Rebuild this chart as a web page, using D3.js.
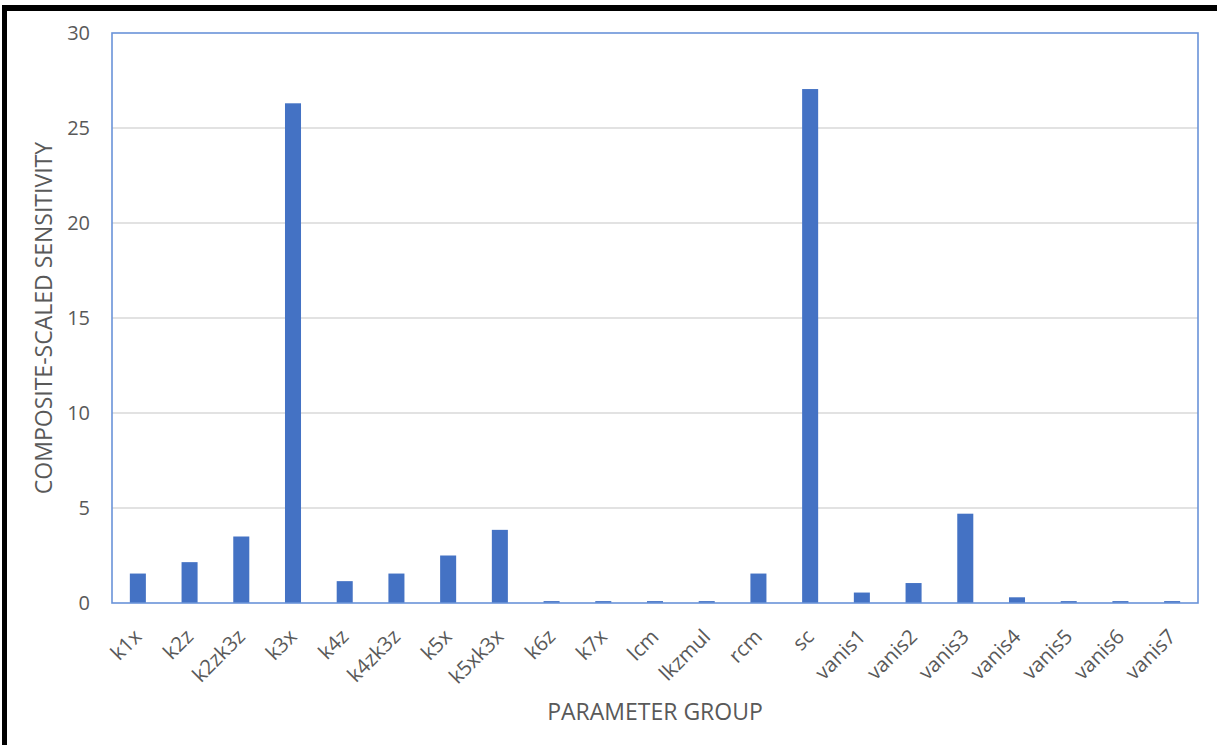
<!DOCTYPE html>
<html>
<head>
<meta charset="utf-8">
<script src="https://cdn.jsdelivr.net/npm/d3@7"></script>
<style>
  html, body { margin: 0; padding: 0; background: #fff; }
  svg { display: block; }
  text { font-family: "Open Sans", "Noto Sans", sans-serif; fill: #595959; }
</style>
</head>
<body>
<svg id="chart"></svg>
<script>
/* ------------------ data ------------------ */

const groups = ["k1x", "k2z", "k2zk3z", "k3x", "k4z", "k4zk3z", "k5x", "k5xk3x", "k6z", "k7x",
  "lcm", "lkzmul", "rcm", "sc", "vanis1", "vanis2", "vanis3", "vanis4", "vanis5", "vanis6", "vanis7"];
const sensitivity = [1.55, 2.15, 3.5, 26.3, 1.15, 1.55, 2.5, 3.85, 0.1, 0.1,
  0.1, 0.1, 1.55, 27.05, 0.55, 1.05, 4.7, 0.3, 0.1, 0.1, 0.1];
const yTicks = [0, 5, 10, 15, 20, 25, 30];

/* ------------------ constants ------------------ */

const WIDTH = 1217;
const HEIGHT = 745;
const PLOT = { left: 112, top: 33, right: 1198, bottom: 603 };
const BAR_COLOR = "#4472c4";
const FRAME_COLOR = "#6a93d9";
const GRID_COLOR = "#d9d9d9";

/* ------------------ render ------------------ */

const svg = d3.select("#chart").attr("width", WIDTH).attr("height", HEIGHT);

// page border (top and left only, as in the screenshot)
svg.append("rect").attr("x", 2).attr("y", 5).attr("width", WIDTH - 2).attr("height", 6).attr("fill", "#000");
svg.append("rect").attr("x", 2).attr("y", 5).attr("width", 5).attr("height", HEIGHT - 5).attr("fill", "#000");

const x = d3.scaleBand()
  .domain(groups)
  .range([PLOT.left, PLOT.right])
  .paddingInner(0.69)
  .paddingOuter(0.345);

const y = d3.scaleLinear()
  .domain([0, 30])
  .range([PLOT.bottom, PLOT.top]);

// gridlines
svg.append("g")
  .selectAll("line")
  .data(yTicks.filter(t => t > 0 && t < 30))
  .join("line")
  .attr("x1", PLOT.left).attr("x2", PLOT.right)
  .attr("y1", d => y(d)).attr("y2", d => y(d))
  .attr("stroke", GRID_COLOR)
  .attr("stroke-width", 1.3);

// bars
svg.append("g")
  .selectAll("rect")
  .data(groups.map((g, i) => ({ g, v: sensitivity[i] })))
  .join("rect")
  .attr("x", d => x(d.g))
  .attr("width", x.bandwidth())
  .attr("y", d => y(d.v))
  .attr("height", d => y(0) - y(d.v))
  .attr("fill", BAR_COLOR);

// plot frame
svg.append("rect")
  .attr("x", PLOT.left).attr("y", PLOT.top)
  .attr("width", PLOT.right - PLOT.left)
  .attr("height", PLOT.bottom - PLOT.top)
  .attr("fill", "none")
  .attr("stroke", FRAME_COLOR)
  .attr("stroke-width", 1.6);

// y axis
const yAxis = svg.append("g")
  .attr("transform", `translate(${PLOT.left},0)`)
  .call(d3.axisLeft(y).tickValues(yTicks).tickSize(0).tickPadding(22));
yAxis.select(".domain").remove();
yAxis.selectAll("text")
  .attr("font-size", 20)
  .attr("font-family", "\"Open Sans\", sans-serif")
  .attr("fill", "#595959");

// x axis
const xAxis = svg.append("g")
  .attr("transform", `translate(0,${PLOT.bottom})`)
  .call(d3.axisBottom(x).tickSize(0).tickPadding(0));
xAxis.select(".domain").remove();
xAxis.selectAll(".tick text")
  .attr("font-size", 20.5)
  .attr("font-family", "\"Open Sans\", sans-serif")
  .attr("fill", "#595959")
  .attr("text-anchor", "end")
  .attr("dy", 0)
  .attr("y", 0)
  .attr("transform", "translate(5,35) rotate(-45)");

// axis titles
svg.append("text")
  .attr("x", (PLOT.left + PLOT.right) / 2)
  .attr("y", 720)
  .attr("text-anchor", "middle")
  .attr("font-size", 23)
  .text("PARAMETER GROUP");

svg.append("text")
  .attr("transform", `translate(52,${(PLOT.top + PLOT.bottom) / 2}) rotate(-90)`)
  .attr("text-anchor", "middle")
  .attr("font-size", 23)
  .text("COMPOSITE-SCALED SENSITIVITY");
</script>
</body>
</html>
